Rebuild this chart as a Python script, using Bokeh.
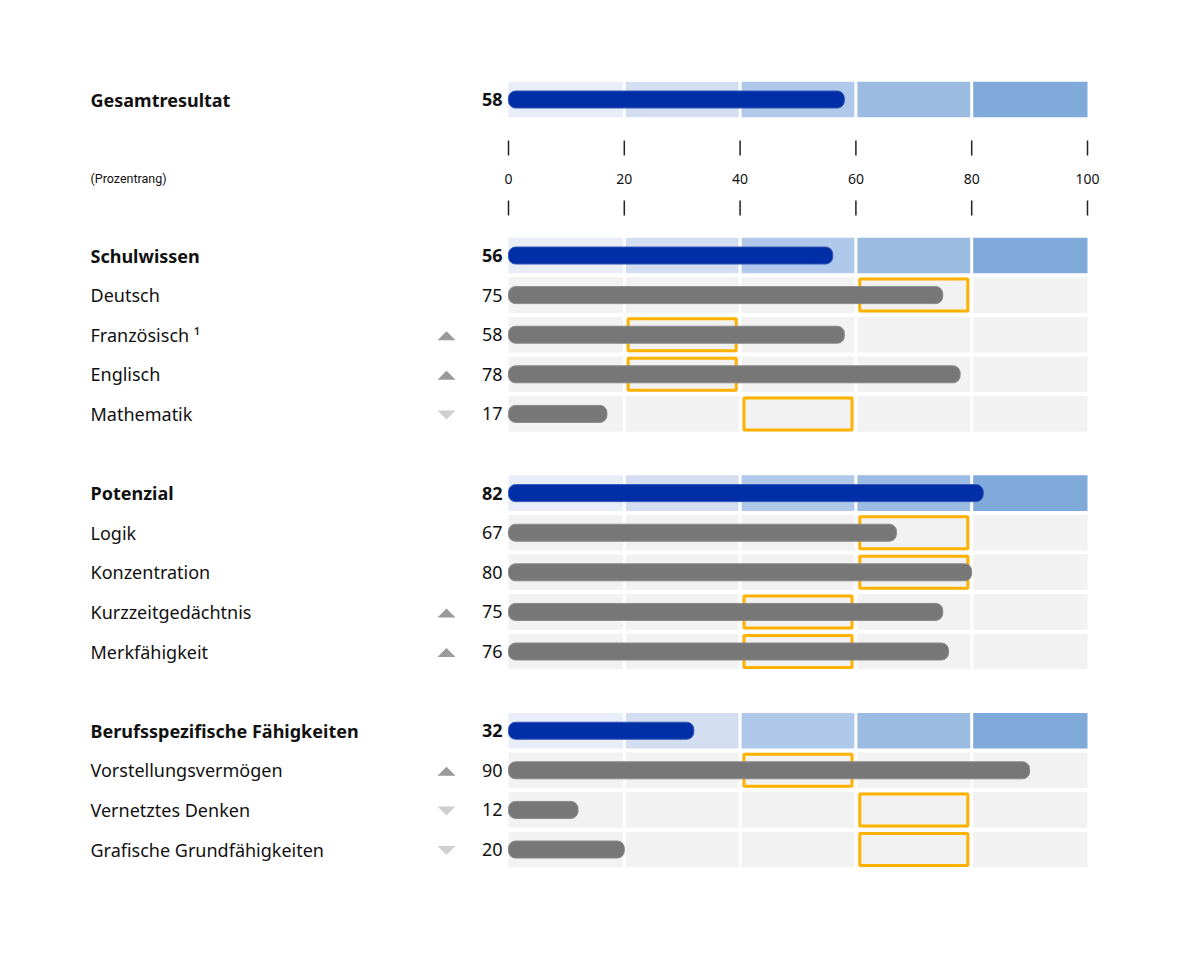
from bokeh.plotting import figure
from bokeh.models import Range1d, ColumnDataSource
from bokeh.core.properties import value
from bokeh.embed import file_html
from bokeh.resources import INLINE

# ---------------- data ----------------
labels = ["Gesamtresultat", "Schulwissen", "Deutsch", "Französisch \u00b9", "Englisch", "Mathematik",
          "Potenzial", "Logik", "Konzentration", "Kurzzeitgedächtnis", "Merkfähigkeit",
          "Berufsspezifische Fähigkeiten", "Vorstellungsvermögen", "Vernetztes Denken",
          "Grafische Grundfähigkeiten"]
scores = [58, 56, 75, 58, 78, 17, 82, 67, 80, 75, 76, 32, 90, 12, 20]
kind = ["total", "group", "item", "item", "item", "item", "group", "item", "item", "item", "item",
        "group", "item", "item", "item"]
target_band = [None, None, 60, 20, 20, 40, None, 60, 60, 40, 40, None, 40, 60, 60]
trend = [None, None, None, "up", "up", "down", None, None, None, "up", "up", None, "up", "down", "down"]
ticks = [0, 20, 40, 60, 80, 100]
band_edges = [0, 20, 40, 60, 80, 100]
band_colors = ["#e9edf8", "#d3def1", "#b0c9ea", "#9bbbe2", "#7faad9"]
axis_note = "(Prozentrang)"

# ---------------- layout ----------------
PX = 579 / 100.0      # px per percentile unit
RY = 39.6             # px per row
X0 = -508 / PX
X1 = X0 + 1200 / PX
Y0 = -99 / RY
Y1 = Y0 + 953 / RY

# row index of each entry: total at 0, axis block between, groups separated by one blank row
rows = []
r = 0.0
for i, k in enumerate(kind):
    if i == 0:
        r = 0.0
    elif k == "group":
        r += 3.94 if kind[i - 1] == "total" else 2
    else:
        r += 1
    rows.append(r)
axis_row = 2

p = figure(width=1200, height=953, x_range=Range1d(X0, X1), y_range=Range1d(Y1, Y0),
           output_backend="svg", toolbar_location=None, min_border=0,
           x_axis_location=None, y_axis_location=None, background_fill_color="white",
           border_fill_color="white")
p.grid.visible = False
p.outline_line_color = None

# background cells
gx = 1.5 / PX
hh = 17.8 / RY
cl, cr, ct, cb, cc = [], [], [], [], []
for i, k in enumerate(kind):
    for c in range(5):
        cl.append(band_edges[c] + (gx if c > 0 else 0))
        cr.append(band_edges[c + 1] - (gx if c < 4 else 0))
        ct.append(rows[i] - hh)
        cb.append(rows[i] + hh)
        cc.append(band_colors[c] if k != "item" else "#f2f2f2")
p.quad(left=cl, right=cr, top=ct, bottom=cb, fill_color=cc, line_color=None)

# target boxes
bx, by = [], []
for i, b in enumerate(target_band):
    if b is not None:
        bx.append(b + 10)
        by.append(rows[i])
p.rect(x=bx, y=by, width=108 / PX, height=32 / RY, fill_color=None,
       line_color="#ffb300", line_width=3)

# bars
bar_colors = ["#002ea6" if k != "item" else "#777777" for k in kind]
bar_lines = ["#3355b8" if k != "item" else "#8a8a8a" for k in kind]
p.hbar(y=rows, left=0, right=scores, height=17 / RY, fill_color=bar_colors,
       line_color=bar_lines, line_width=1, border_radius=7)

# trend triangles
txs, tys, tcs = [], [], []
tcx = (446 - 508) / PX
thw = 9 / PX
thh = 4.5 / RY
for i, t in enumerate(trend):
    if t is None:
        continue
    cy = rows[i] + 1 / RY
    if t == "up":
        txs.append([tcx - thw, tcx + thw, tcx])
        tys.append([cy + thh, cy + thh, cy - thh])
        tcs.append("#9a9a9a")
    else:
        txs.append([tcx - thw, tcx + thw, tcx])
        tys.append([cy - thh, cy - thh, cy + thh])
        tcs.append("#cfcfcf")
p.patches(xs=txs, ys=tys, fill_color=tcs, line_color=None)

# labels
lab_x = (90 - 508) / PX
val_x = (502 - 508) / PX
styles = ["bold" if k != "item" else "normal" for k in kind]
src = ColumnDataSource(dict(y=rows, lab=labels, val=[str(s) for s in scores], st=styles))
p.text(x=lab_x, y="y", text="lab", source=src, text_font=value("Noto Sans"),
       text_font_size="18px", text_font_style="st", text_baseline="middle",
       text_align="left", text_color="#111111")
p.text(x=val_x, y="y", text="val", source=src, text_font=value("Noto Sans"),
       text_font_size="18px", text_font_style="st", text_baseline="middle",
       text_align="right", text_color="#111111")

# axis
p.text(x=ticks, y=[axis_row] * len(ticks), text=[str(t) for t in ticks],
       text_font=value("Noto Sans"), text_font_size="14px", text_baseline="middle",
       text_align="center", text_color="#111111")
p.text(x=[lab_x], y=[axis_row], text=[axis_note],
       text_font=value("Roboto"), text_font_size="12.5px",
       text_baseline="middle", text_align="left", text_color="#111111")
for (a, b) in [((140 - 99) / RY, (155 - 99) / RY), ((200 - 99) / RY, (215 - 99) / RY)]:
    p.segment(x0=ticks, x1=ticks, y0=[a] * len(ticks), y1=[b] * len(ticks),
              line_color="#222222", line_width=1.5)

open("out.html", "w").write(file_html(p, INLINE))
